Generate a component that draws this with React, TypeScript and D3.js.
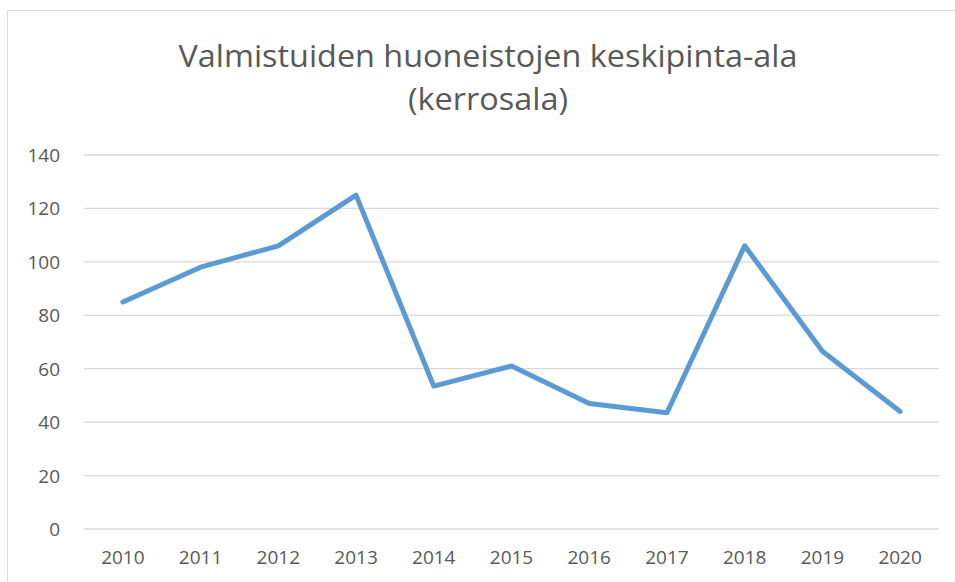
import React from 'react';
import * as d3 from 'd3';

// Valmistuneiden huoneistojen keskipinta-ala vuosittain
const years = ['2010', '2011', '2012', '2013', '2014', '2015', '2016', '2017', '2018', '2019', '2020'];
const values = [85, 98, 106, 125, 53.5, 61, 47, 43.5, 106, 66.5, 44];
const yTicks = [0, 20, 40, 60, 80, 100, 120, 140];
const titleLines = ['Valmistuiden huoneistojen keskipinta-ala', '(kerrosala)'];
const titleWidths = [619, 160];

const width = 955;
const height = 582;
const plot = { left: 84, right: 939, top: 155, bottom: 529 };
const font = '"Open Sans", sans-serif';
const textColor = '#595959';

export default function App() {
  const x = d3.scaleBand().domain(years).range([plot.left, plot.right]);
  const y = d3.scaleLinear().domain([0, 140]).range([plot.bottom, plot.top]);

  const line = d3
    .line<number>()
    .x((_, i) => (x(years[i]) || 0) + x.bandwidth() / 2)
    .y((d) => y(d));

  return (
    <svg
      width={width}
      height={height}
      style={{ position: 'absolute', left: 0, top: 0, background: '#fff' }}
      fontFamily={font}
    >
      <rect x={7.5} y={10.5} width={1000} height={1000} fill="#fff" stroke="#d9d9d9" />

      {titleLines.map((t, i) => (
        <text
          key={t}
          x={488}
          y={67 + i * 43}
          textAnchor="middle"
          fontSize={31}
          fill={textColor}
          textLength={titleWidths[i]}
          lengthAdjust="spacingAndGlyphs"
        >
          {t}
        </text>
      ))}

      {/* gridlines + y labels */}
      {yTicks.map((t) => (
        <g key={t}>
          <line x1={plot.left} x2={plot.right} y1={y(t)} y2={y(t)} stroke="#d9d9d9" strokeWidth={1.3} />
          <text x={60} y={y(t) + 7} textAnchor="end" fontSize={19} fill={textColor}>
            {t}
          </text>
        </g>
      ))}

      {/* x labels */}
      {years.map((yr) => (
        <text
          key={yr}
          x={(x(yr) || 0) + x.bandwidth() / 2}
          y={564}
          textAnchor="middle"
          fontSize={19}
          fill={textColor}
        >
          {yr}
        </text>
      ))}

      <path
        d={line(values) || ''}
        fill="none"
        stroke="#5b9bd5"
        strokeWidth={5}
        strokeLinejoin="round"
        strokeLinecap="round"
      />
    </svg>
  );
}
